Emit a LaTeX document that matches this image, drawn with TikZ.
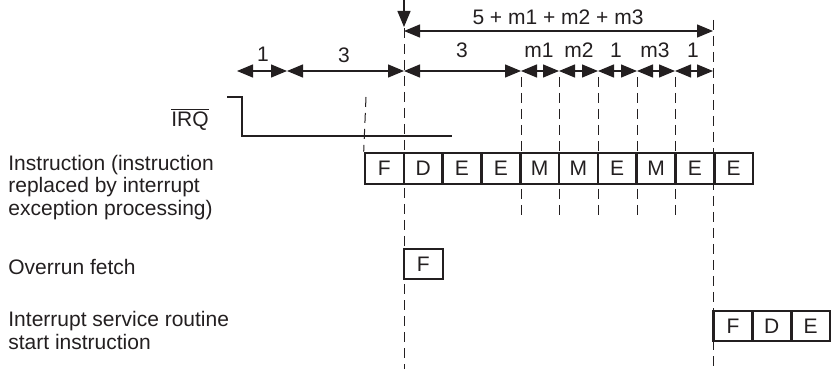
\documentclass[tikz,border=0pt]{standalone}
\usepackage{fontspec}
\setmainfont{Liberation Sans}
\usetikzlibrary{arrows.meta}
\definecolor{ink}{RGB}{35,31,32}
\begin{document}
\begin{tikzpicture}[x=0.5pt,y=-0.5pt,
  lbl/.style={font=\fontsize{10.5}{11.5}\selectfont, text=ink, inner sep=0pt},
  cell/.style={draw=ink, line width=1.3pt, minimum width=19.4pt, minimum height=15.5pt, inner sep=0pt, font=\fontsize{10.5}{11.5}\selectfont, text=ink},
  dim/.style={line width=0.65pt, draw=ink, {Triangle[length=8pt,width=6.5pt]}-{Triangle[length=8pt,width=6.5pt]}},
  guide/.style={draw=ink, line width=0.5pt, dash pattern=on 5pt off 3pt},
  sig/.style={draw=ink, line width=1.1pt},
]
\useasboundingbox (0,0) rectangle (831,369);

% instruction row
\foreach \n/\t [count=\k from 0] in {i1/F,i2/D,i3/E,i4/E,i5/M,i6/M,i7/E,i8/M,i9/E,i10/E}
  \node[cell] (\n) at ({384.4+38.8*\k},168.5) {\t};
% overrun fetch
\node[cell, minimum height=15pt] (of) at (423.4,264) {F};
% ISR row
\foreach \n/\t [count=\k from 0] in {s1/F,s2/D,s3/E}
  \node[cell, minimum height=15pt] (\n) at ({733+38.8*\k},326) {\t};

% left labels (base anchor = last line's baseline)
\node[lbl, anchor=base west, align=left] (linstr) at (8,216) {Instruction (instruction\\replaced by interrupt\\exception processing)};
\node[lbl, anchor=base west] (lof) at (8,274) {Overrun fetch};
\node[lbl, anchor=base west, align=left] (lisr) at (8,350) {Interrupt service routine\\start instruction};
\node[lbl, anchor=base west] (lirq) at (171,127) {$\overline{\mbox{IRQ}}$};

% IRQ signal
\coordinate (q0) at (227,97);
\coordinate (q1) at (242,97);
\coordinate (q2) at (242,136);
\coordinate (q3) at (452,136);
\draw[sig] (q0) -- (q1) -- (q2) -- (q3);

% guide lines
\coordinate (g0t) at (404,28);  \coordinate (g0b) at (404,369);
\coordinate (g9t) at (713,20);  \coordinate (g9b) at (713,369);
\coordinate (gLt) at (366,97);
\draw[guide] (g0t) -- (g0b);
\draw[guide] (g9t) -- (g9b);
\draw[guide] (gLt) -- (i1.north west);
\foreach \x [count=\j] in {521,559,598,637,675}{
  \coordinate (gt\j) at (\x,77);
  \coordinate (gb\j) at (\x,218);
  \draw[guide] (gt\j) -- (gb\j);
}

% interrupt arrow
\coordinate (a0) at (404,0);
\coordinate (a1) at (404,27);
\draw[line width=0.65pt, draw=ink, -{Triangle[length=8pt,width=6.5pt]}] (a0) -- (a1);

% total span
\coordinate (t0) at (404,31);
\coordinate (t1) at (713,31);
\draw[dim] (t0) -- (t1);
\node[lbl, anchor=base] (ltot) at (558,25) {5 + m1 + m2 + m3};

% dimension row
\foreach \x [count=\j from 0] in {237,287,404,521,559,598,637,675,713}
  \coordinate (d\j) at (\x,71);
\draw[dim] (d0) -- (d1);
\draw[dim] (d1) -- (d2);
\draw[dim] (d2) -- (d3);
\draw[dim] (d3) -- (d4);
\draw[dim] (d4) -- (d5);
\draw[dim] (d5) -- (d6);
\draw[dim] (d6) -- (d7);
\draw[dim] (d7) -- (d8);
\node[lbl, anchor=base] (n1) at (263,62) {1};
\node[lbl, anchor=base] (n2) at (344,63) {3};
\node[lbl, anchor=base] (n3) at (462,58) {3};
\node[lbl, anchor=base] (n4) at (539,58) {m1};
\node[lbl, anchor=base] (n5) at (579,58) {m2};
\node[lbl, anchor=base] (n6) at (616,58) {1};
\node[lbl, anchor=base] (n7) at (655,58) {m3};
\node[lbl, anchor=base] (n8) at (693,58) {1};
\end{tikzpicture}
\end{document}
